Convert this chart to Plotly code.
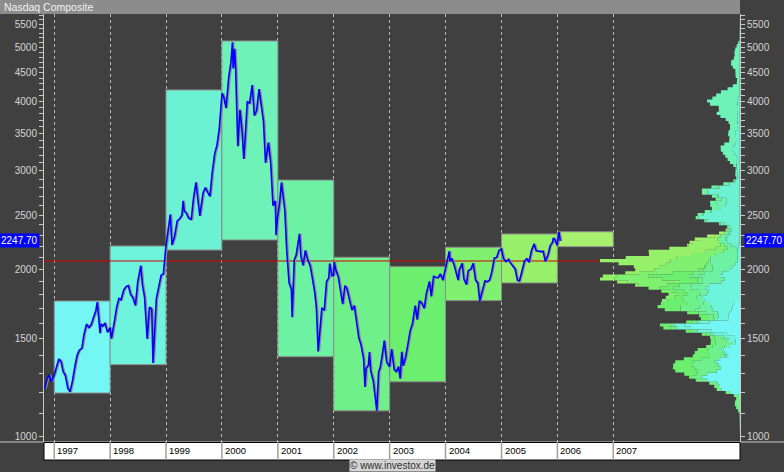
import math
import numpy as np
import pandas as pd
import plotly.graph_objects as go

# ---------------- data ----------------
price_dates = [
    '1996-10-31', '1996-11-15', '1996-11-29', '1996-12-13', '1996-12-31',
    '1997-01-15', '1997-01-31', '1997-02-14', '1997-02-28', '1997-03-14', '1997-03-31', '1997-04-14', '1997-04-30',
    '1997-05-15', '1997-05-30', '1997-06-13', '1997-06-30', '1997-07-15', '1997-07-31', '1997-08-15', '1997-08-29',
    '1997-09-15', '1997-09-30', '1997-10-09', '1997-10-27', '1997-10-31', '1997-11-14', '1997-11-28', '1997-12-15', '1997-12-31',
    '1998-01-09', '1998-01-30', '1998-02-13', '1998-02-27', '1998-03-13', '1998-03-31', '1998-04-15', '1998-04-30',
    '1998-05-15', '1998-05-29', '1998-06-15', '1998-06-30', '1998-07-20', '1998-07-31', '1998-08-14', '1998-08-31',
    '1998-09-15', '1998-09-30', '1998-10-08', '1998-10-30', '1998-11-13', '1998-11-30', '1998-12-15', '1998-12-31',
    '1999-01-15', '1999-01-29', '1999-02-09', '1999-02-26', '1999-03-15', '1999-03-31', '1999-04-15', '1999-04-23',
    '1999-04-30', '1999-05-14', '1999-05-28', '1999-06-15', '1999-06-30', '1999-07-16', '1999-07-30', '1999-08-10',
    '1999-08-31', '1999-09-15', '1999-09-30', '1999-10-15', '1999-10-29', '1999-11-15', '1999-11-30', '1999-12-15', '1999-12-31',
    '2000-01-03', '2000-01-14', '2000-01-28', '2000-02-15', '2000-02-29', '2000-03-10', '2000-03-15', '2000-03-24',
    '2000-03-31', '2000-04-14', '2000-04-28', '2000-05-12', '2000-05-23', '2000-05-31', '2000-06-15', '2000-06-30',
    '2000-07-17', '2000-07-31', '2000-08-15', '2000-08-31', '2000-09-15', '2000-09-29', '2000-10-12', '2000-10-31',
    '2000-11-15', '2000-11-30', '2000-12-15', '2000-12-20', '2000-12-29',
    '2001-01-12', '2001-01-24', '2001-01-31', '2001-02-15', '2001-02-28', '2001-03-15', '2001-03-30', '2001-04-04',
    '2001-04-18', '2001-04-30', '2001-05-22', '2001-05-31', '2001-06-15', '2001-06-29', '2001-07-13', '2001-07-31',
    '2001-08-15', '2001-08-31', '2001-09-10', '2001-09-21', '2001-09-28', '2001-10-15', '2001-10-31', '2001-11-15',
    '2001-11-30', '2001-12-05', '2001-12-21', '2001-12-31',
    '2002-01-04', '2002-01-15', '2002-01-31', '2002-02-15', '2002-02-28', '2002-03-15', '2002-03-28', '2002-04-15',
    '2002-04-30', '2002-05-15', '2002-05-31', '2002-06-14', '2002-06-28', '2002-07-15', '2002-07-24', '2002-07-31',
    '2002-08-15', '2002-08-22', '2002-08-30', '2002-09-16', '2002-09-30', '2002-10-09', '2002-10-21', '2002-10-31',
    '2002-11-15', '2002-11-27', '2002-12-13', '2002-12-31',
    '2003-01-14', '2003-01-31', '2003-02-14', '2003-02-28', '2003-03-11', '2003-03-21', '2003-03-31', '2003-04-15',
    '2003-04-30', '2003-05-15', '2003-05-30', '2003-06-17', '2003-06-30', '2003-07-14', '2003-07-31', '2003-08-15',
    '2003-08-29', '2003-09-18', '2003-09-30', '2003-10-15', '2003-10-31', '2003-11-14', '2003-11-28', '2003-12-15', '2003-12-31',
    '2004-01-15', '2004-01-26', '2004-01-30', '2004-02-11', '2004-02-27', '2004-03-15', '2004-03-24', '2004-03-31',
    '2004-04-19', '2004-04-30', '2004-05-17', '2004-05-28', '2004-06-15', '2004-06-30', '2004-07-15', '2004-07-30',
    '2004-08-12', '2004-08-31', '2004-09-15', '2004-09-30', '2004-10-15', '2004-10-29', '2004-11-15', '2004-11-30',
    '2004-12-15', '2004-12-31',
    '2005-01-14', '2005-01-31', '2005-02-15', '2005-02-28', '2005-03-15', '2005-03-31', '2005-04-15', '2005-04-28',
    '2005-05-16', '2005-05-31', '2005-06-15', '2005-06-30', '2005-07-15', '2005-08-02', '2005-08-15', '2005-08-31',
    '2005-09-15', '2005-09-30', '2005-10-14', '2005-10-31', '2005-11-15', '2005-11-30', '2005-12-05', '2005-12-15', '2005-12-30',
    '2006-01-11', '2006-01-20',
]
price_values = [
    1221, 1270, 1293, 1256, 1291,
    1340, 1380, 1365, 1309, 1290, 1222, 1205, 1261,
    1335, 1400, 1430, 1442, 1530, 1594, 1570, 1587,
    1640, 1686, 1745, 1535, 1594, 1580, 1601, 1540, 1570,
    1500, 1619, 1710, 1771, 1760, 1835, 1860, 1868,
    1800, 1779, 1720, 1895, 2028, 1873, 1780, 1499,
    1710, 1694, 1357, 1771, 1850, 1950, 1960, 2193,
    2350, 2506, 2210, 2288, 2440, 2461, 2500, 2650,
    2542, 2520, 2471, 2450, 2686, 2860, 2638, 2490,
    2739, 2800, 2746, 2700, 2966, 3220, 3336, 3570, 4069,
    4131, 4064, 3887, 4420, 4697, 5100, 4580, 4964,
    4573, 3321, 3861, 3530, 3150, 3401, 3990, 3966,
    4274, 3767, 3850, 4206, 3900, 3673, 3100, 3370,
    3100, 2598, 2650, 2300, 2471,
    2626, 2860, 2773, 2550, 2152, 1890, 1840, 1640,
    2080, 2116, 2313, 2110, 2030, 2161, 2085, 2027,
    1920, 1805, 1695, 1423, 1499, 1700, 1690, 1900,
    1931, 2046, 1945, 1950,
    2059, 1990, 1934, 1805, 1731, 1868, 1845, 1756,
    1688, 1720, 1616, 1505, 1463, 1380, 1230, 1328,
    1345, 1420, 1315, 1260, 1172, 1114, 1310, 1330,
    1410, 1488, 1362, 1336,
    1438, 1321, 1310, 1337, 1272, 1421, 1341, 1390,
    1464, 1550, 1596, 1720, 1623, 1754, 1735, 1700,
    1810, 1900, 1787, 1940, 1932, 1930, 1960, 1910, 2003,
    2090, 2153, 2066, 2089, 2030, 1940, 1910, 1994,
    2049, 1920, 1876, 1987, 2000, 2048, 1912, 1887,
    1752, 1838, 1905, 1897, 1912, 1975, 2094, 2097,
    2159, 2175,
    2087, 2062, 2082, 2052, 2029, 1999, 1909, 1904,
    1990, 2068, 2088, 2057, 2157, 2219, 2157, 2152,
    2150, 2152, 2065, 2120, 2204, 2233, 2273, 2260, 2205,
    2332, 2247.70,
]

box_years = [1997, 1998, 1999, 2000, 2001, 2002, 2003, 2004, 2005, 2006]
box_high = [1753, 2200, 4190, 5129, 2888, 2100, 2020, 2189, 2312, 2333]
box_low = [1199, 1348, 2164, 2256, 1393, 1114, 1256, 1756, 1889, 2194]
year_colors = ['#74f7f4', '#6ef4dc', '#6cf2d2', '#6ef2b8', '#6cf2a2',
               '#70f08a', '#6cee6e', '#80f070', '#96f06a', '#a8f06e']

ref_level = 2068
last_price = price_values[-1]
year_ticks = list(range(1997, 2008))
y_tickvals = list(range(1000, 5800, 100))
y_ticktext = [str(v) if v % 500 == 0 else '' for v in y_tickvals]

title_text = 'Nasdaq Composite'
credit_text = '© www.investox.de'

# ---------------- layout constants ----------------
W, H = 784, 472
ML, MR, MT, MB = 44, 44, 14, 30
PW, PH = W - ML - MR, H - MT - MB
x_range = ['1996-10-26', '2009-04-08']
y_range = [math.log10(979.5), math.log10(5733)]

BG = '#404040'
AXC = '#c8c8c8'
TXT = '#d4d4d4'
FONT = 'Liberation Sans, Arial, sans-serif'

fig = go.Figure()

# yearly range boxes
for yr, hi, lo, col in zip(box_years, box_high, box_low, year_colors):
    x0, x1 = f'{yr}-01-01', f'{yr + 1}-01-01'
    fig.add_trace(go.Scatter(
        x=[x0, x1, x1, x0, x0], y=[lo, lo, hi, hi, lo],
        mode='lines', fill='toself', fillcolor=col,
        line=dict(color='#8c8c8c', width=1), hoverinfo='skip'))

# price-profile (time at price per year), derived from the series
dts = pd.to_datetime(price_dates)
lp = np.log10(np.array(price_values, dtype=float))
edges = np.arange(3.0, 3.76, 0.0055)
nb = len(edges) - 1
prof_years = list(range(1997, 2007))
counts = {y: np.zeros(nb) for y in prof_years}
for i in range(len(dts) - 1):
    days = pd.bdate_range(dts[i], dts[i + 1], inclusive='left')
    n = max(len(days), 1)
    for k, d in enumerate(days):
        v = lp[i] + (lp[i + 1] - lp[i]) * k / n
        b = int(np.searchsorted(edges, v)) - 1
        yy = min(max(d.year, 1997), 2006)
        if 0 <= b < nb:
            counts[yy][b] += 1
# light smoothing over neighbouring bins
kern = np.array([0.25, 0.5, 0.25])
for y in prof_years:
    counts[y] = np.convolve(counts[y], kern, mode='same')
cum = np.zeros(nb)
maxtot = sum(counts[y] for y in prof_years).max()
prof_range = maxtot * PW / 140.0
for y, col in zip(prof_years, year_colors):
    inner = cum.copy()
    outer = cum + counts[y]
    cum = outer
    if counts[y].sum() == 0:
        continue
    xs, ys = [], []
    for b in range(nb):
        xs += [outer[b], outer[b]]
        ys += [10 ** edges[b], 10 ** edges[b + 1]]
    for b in range(nb - 1, -1, -1):
        xs += [inner[b], inner[b]]
        ys += [10 ** edges[b + 1], 10 ** edges[b]]
    fig.add_trace(go.Scatter(x=xs, y=ys, xaxis='x2', yaxis='y', mode='lines',
                             fill='toself', fillcolor=col, line=dict(width=0),
                             hoverinfo='skip'))

# reference level line
fig.add_trace(go.Scatter(x=x_range, y=[ref_level, ref_level], mode='lines',
                         line=dict(color='#d00000', width=1), hoverinfo='skip'))

# price: gray shadow + blue line
shadow_x = dts + pd.Timedelta(days=8)
fig.add_trace(go.Scatter(x=shadow_x, y=price_values, mode='lines',
                         line=dict(color='#8a8a8a', width=1.6), hoverinfo='skip'))
fig.add_trace(go.Scatter(x=dts, y=price_values, mode='lines',
                         line=dict(color='#0000ff', width=1.6), hoverinfo='skip'))

# invisible trace to draw right-hand axis
fig.add_trace(go.Scatter(x=[dts[-1]], y=[last_price], yaxis='y2', mode='markers',
                         marker=dict(opacity=0), hoverinfo='skip'))

yaxis_common = dict(
    type='log', range=y_range, tickmode='array', tickvals=y_tickvals, ticktext=y_ticktext,
    ticks='outside', ticklen=4, tickcolor=AXC, tickwidth=1, automargin=False,
    showline=True, linecolor=AXC, linewidth=1, showgrid=False, zeroline=False,
    tickfont=dict(family=FONT, size=10, color=TXT),
)

fig.update_layout(
    width=W, height=H,
    margin=dict(l=ML, r=MR, t=MT, b=MB, pad=0, autoexpand=False),
    paper_bgcolor=BG, plot_bgcolor=BG,
    showlegend=False, hovermode=False,
    xaxis=dict(type='date', range=x_range, tickmode='array',
               tickvals=[f'{y}-01-01' for y in year_ticks],
               showticklabels=False, ticks='', showgrid=True, automargin=False,
               gridcolor='#b8b8b8', griddash='3px,3px', gridwidth=1,
               zeroline=False, showline=False),
    xaxis2=dict(overlaying='x', range=[prof_range, 0], visible=False, anchor='y'),
    yaxis=dict(side='left', **yaxis_common),
    yaxis2=dict(side='right', overlaying='y', anchor='x', **yaxis_common),
)

shapes = []
# title bar
shapes.append(dict(type='rect', xref='paper', yref='paper', x0=-ML / PW, x1=1,
                   y0=1, y1=1 + MT / PH, fillcolor='#8c8c8c', line=dict(width=0)))
# horizontal light line at bottom of plot
shapes.append(dict(type='line', xref='paper', yref='paper', x0=-ML / PW, x1=1 + MR / PW,
                   y0=0, y1=0, line=dict(color=AXC, width=1)))
# white date strip
strip_h = 18 / PH
shapes.append(dict(type='rect', xref='paper', yref='paper', x0=0, x1=1,
                   y0=-strip_h, y1=-0.5 / PH, fillcolor='#ffffff',
                   line=dict(color='#000000', width=1)))
for y in year_ticks:
    shapes.append(dict(type='line', xref='x', yref='paper', x0=f'{y}-01-01', x1=f'{y}-01-01',
                       y0=-strip_h, y1=0, line=dict(color='#a0a0a0', width=1.5)))
fig.update_layout(shapes=shapes)

annotations = []
annotations.append(dict(text=title_text, xref='paper', yref='paper', x=-ML / PW + 2 / PW,
                        y=1 + (MT / 2) / PH, xanchor='left', yanchor='middle', showarrow=False,
                        font=dict(family=FONT, size=10.5, color='#f2f2f2')))
for y in year_ticks:
    annotations.append(dict(text=str(y), xref='x', yref='paper', x=f'{y}-01-01', xshift=1,
                            y=-9 / PH, xanchor='left', yanchor='middle', showarrow=False,
                            font=dict(family=FONT, size=9.5, color='#000000')))
annotations.append(dict(text=credit_text, xref='paper', yref='paper',
                        x=(392.5 - ML) / PW, y=(PH - (465.5 - MT)) / PH,
                        xanchor='center', yanchor='middle', showarrow=False,
                        bgcolor='#d4d4d4', borderpad=0,
                        font=dict(family=FONT, size=10, color='#303030')))
lbl = f'{last_price:.2f}'
annotations.append(dict(text=lbl, xref='paper', yref='y', x=0, y=math.log10(last_price),
                        xanchor='right', yanchor='middle', xshift=-4, showarrow=False,
                        bgcolor='#0000ff', borderpad=1,
                        font=dict(family=FONT, size=10, color='#ffffff')))
annotations.append(dict(text=lbl, xref='paper', yref='y', x=1, y=math.log10(last_price),
                        xanchor='left', yanchor='middle', xshift=4, showarrow=False,
                        bgcolor='#0000ff', borderpad=1,
                        font=dict(family=FONT, size=10, color='#ffffff')))
fig.update_layout(annotations=annotations)

fig.write_html('out.html', config={'displayModeBar': False},
               post_script="document.body.style.margin='0px';document.body.style.padding='0px';"
                           "document.body.style.overflow='hidden';")
